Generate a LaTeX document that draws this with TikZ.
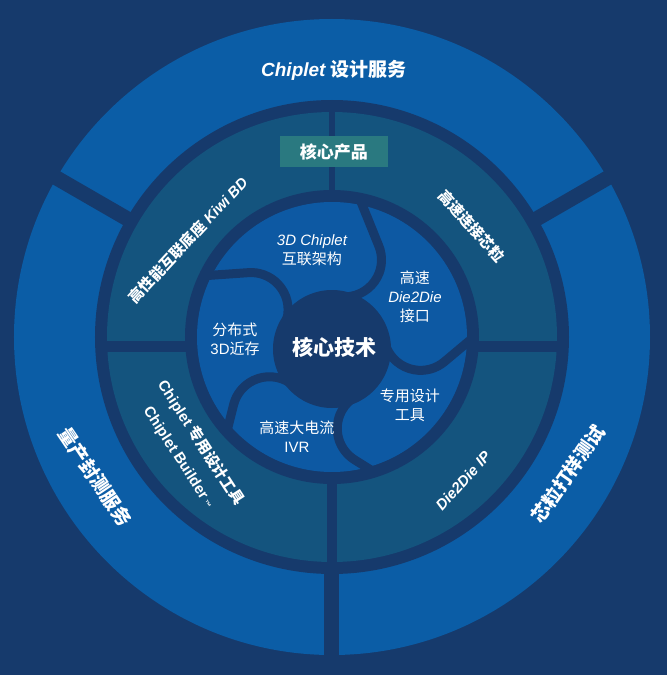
\documentclass[tikz,border=0pt]{standalone}
\usepackage{fontspec}
\setmainfont{Liberation Sans}
\newfontfamily\cjk{Noto Sans CJK SC}
\usetikzlibrary{calc}

\definecolor{navy}{RGB}{22,58,108}
\definecolor{ringblue}{RGB}{11,93,166}
\definecolor{midteal}{RGB}{20,84,126}
\definecolor{coreblue}{RGB}{13,89,163}
\definecolor{tagteal}{RGB}{42,121,128}

\newcommand{\zh}[1]{{\cjk #1}}

\tikzset{
    divider/.style={draw=navy, line width=#1},
    petal/.style={draw=navy, line width=9pt},
    ringtext/.style={text=white, inner sep=0pt, font=\bfseries\fontsize{19}{22}\selectfont},
    prodtext/.style={text=white, inner sep=0pt, align=center, font=\bfseries\fontsize{15}{26}\selectfont},
    techtext/.style={text=white, inner sep=0pt, align=center, font=\fontsize{15}{19}\selectfont},
    coretext/.style={text=white, inner sep=0pt, font=\bfseries\fontsize{21}{24}\selectfont},
    tag/.style={fill=tagteal, text=white, minimum width=108pt, minimum height=31pt, inner sep=0pt, font=\bfseries\fontsize{17}{20}\selectfont}
}

\begin{document}
\begin{tikzpicture}[x=1pt, y=1pt]
    \fill[navy] (-332,-338) rectangle (335,337);
    \useasboundingbox (-332,-338) rectangle (335,337);

    % service ring
    \fill[ringblue] (0,0) circle (318pt);
    \fill[navy] (0,0) circle (237pt);
    \foreach \a in {30,150,270}
        \draw[divider=15pt] (\a:228) -- (\a:326);

    % product ring
    \fill[midteal] (0,0) circle (225pt);
    \fill[navy] (0,0) circle (147pt);
    \draw[divider=6pt] (90:140) -- (90:230);
    \draw[divider=10pt] (270:140) -- (270:230);
    \draw[divider=11pt] (-230,-9) -- (-140,-9);
    \draw[divider=11pt] (140,-9) -- (230,-9);

    % technology disk
    \fill[coreblue] (0,0) circle (135pt);
    \coordinate (core) at (0,-12);
    \begin{scope}
        \clip (0,0) circle (141pt);
        \foreach \a in {10,82,...,298}
            \draw[petal] ($(core)+(\a:90)+({\a-170}:37)$) arc[start angle={\a-170}, end angle={\a-60}, radius=37pt] -- ++({\a+30}:60);
    \end{scope}
    \fill[navy] (core) circle (59pt);

    \node[ringtext] (design) at (2,267) {{\itshape Chiplet} \zh{设计服务}};
    \node[ringtext, rotate=-56] (package) at (-237,-140) {\zh{量产封测服务}};
    \node[ringtext, rotate=55] (sample) at (236,-137) {\zh{芯粒打样测试}};

    \node[tag] (products) at (2,185) {\zh{核心产品}};
    \node[prodtext, rotate=47] (kiwi) at (-144,97) {\zh{高性能互联底座} {\itshape Kiwi BD}};
    \node[prodtext, rotate=-48] (chiplink) at (140,111) {\zh{高速连接芯粒}};
    \node[prodtext, rotate=-57] (builder) at (-142,-113) {Chiplet \zh{专用设计工具}\\Chiplet Builder\,{\fontsize{8}{8}\selectfont ™}};
    \node[prodtext, rotate=48] (d2dip) at (131,-144) {{\itshape Die2Die IP}};

    \node[coretext] (coretech) at (3,-10) {\zh{核心技术}};
    \node[techtext] (arch) at (-20,87) {{\itshape 3D Chiplet}\\\zh{互联架构}};
    \node[techtext] (d2d) at (83,40) {\zh{高速}\\{\itshape Die2Die}\\\zh{接口}};
    \node[techtext] (memory) at (-97,-2) {\zh{分布式}\\3D\zh{近存}};
    \node[techtext] (eda) at (78,-68) {\zh{专用设计}\\\zh{工具}};
    \node[techtext] (ivr) at (-35,-100) {\zh{高速大电流}\\IVR};
\end{tikzpicture}
\end{document}
